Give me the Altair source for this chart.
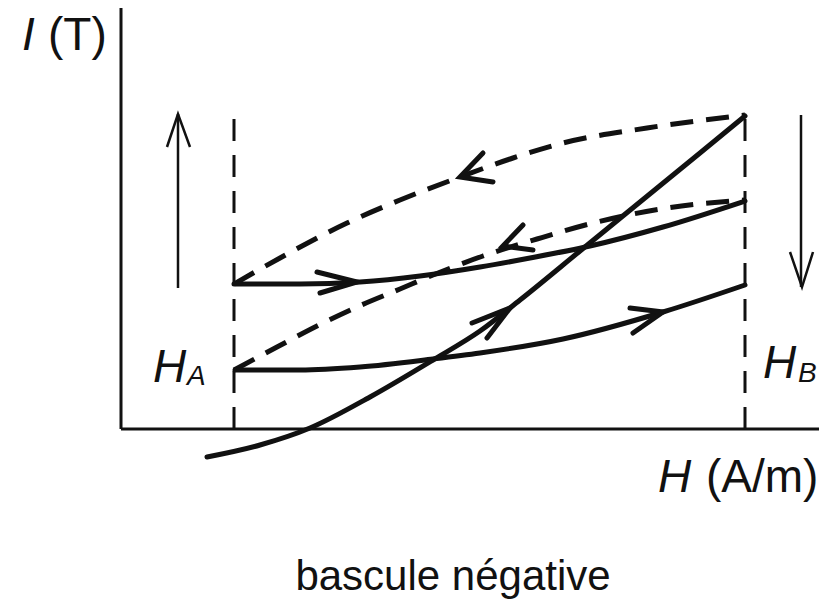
import altair as alt
import pandas as pd

# Chart units: H = horizontal field, I = induction (origin at the axes corner)
H_A = 113
H_B = 624
GUIDE_TOP = 324

# Solid curves
main_h = [86, 139, 189, 249, 312, 359, 399, 459, 519, 579, 624]
main_i = [-28, -16, 1, 32, 69, 98, 129, 178, 227, 276, 313]
low_h = [114, 179, 239, 312, 359, 442, 542, 624]
low_i = [59, 59, 62, 70, 76, 90, 117, 144]
mid_h = [113, 179, 239, 299, 359, 409, 469, 542, 624]
mid_i = [145, 145, 147, 153, 162, 171, 183, 202, 228]

# Dashed curves
dtop_h = [113, 159, 226, 279, 339, 392, 442, 526, 624]
dtop_i = [145, 171, 206, 229, 252, 271, 286, 301, 314]
dmid_h = [113, 156, 196, 236, 279, 312, 362, 416, 476, 546, 624]
dmid_i = [59, 82, 103, 122, 140, 154, 173, 190, 207, 221, 229]

# Arrowheads on curves: (arm, tip, arm)
heads = {
    "main": ([351, 389, 366], [106, 121, 91]),
    "low": ([509, 542, 512], [121, 117, 96]),
    "mid": ([196, 236, 199], [157, 147, 136]),
    "dtop": ([362, 339, 372], [276, 252, 247]),
    "dmid": ([402, 382, 412], [204, 183, 179]),
}

# Side arrows (shaft + head)
up_h = [57, 57]
up_i = [141, 315]
up_head_h = [46, 57, 69]
up_head_i = [282, 315, 282]
down_h = [680, 680]
down_i = [314, 142]
down_head_h = [669, 681, 692]
down_head_i = [177, 142, 177]

XS = alt.Scale(domain=[-113, 698], nice=False, zero=False)
YS = alt.Scale(domain=[-171, 421], nice=False, zero=False)
INK = "#111111"
FONT = "Liberation Sans"


def curve_df(named):
    rows = []
    for name, (hs, is_) in named.items():
        for k, (h, i) in enumerate(zip(hs, is_)):
            rows.append({"id": name, "k": k, "h": h, "i": i})
    return pd.DataFrame(rows)


def enc(ch):
    return ch.encode(
        x=alt.X("h:Q", scale=XS, axis=None),
        y=alt.Y("i:Q", scale=YS, axis=None),
        detail="id:N",
        order="k:Q",
    )


solid = enc(alt.Chart(curve_df({
    "main": (main_h, main_i), "low": (low_h, low_i), "mid": (mid_h, mid_i)
})).mark_line(color=INK, strokeWidth=5, interpolate="monotone", strokeCap="round"))

dashed = enc(alt.Chart(curve_df({
    "dtop": (dtop_h, dtop_i), "dmid": (dmid_h, dmid_i)
})).mark_line(color=INK, strokeWidth=5, interpolate="monotone", strokeDash=[23, 13]))

arrowheads = enc(alt.Chart(curve_df(heads)).mark_line(
    color=INK, strokeWidth=5, strokeCap="round", strokeJoin="miter"))

side = enc(alt.Chart(curve_df({
    "up": (up_h, up_i), "uph": (up_head_h, up_head_i),
    "down": (down_h, down_i), "downh": (down_head_h, down_head_i),
})).mark_line(color=INK, strokeWidth=2.5, strokeJoin="miter"))

axes_v = alt.Chart(pd.DataFrame({"h": [0], "i": [0], "i2": [421]})).mark_rule(
    color=INK, strokeWidth=3).encode(
    x=alt.X("h:Q", scale=XS, axis=None),
    y=alt.Y("i:Q", scale=YS, axis=None), y2="i2:Q")
axes_h = alt.Chart(pd.DataFrame({"h": [0], "h2": [706], "i": [0]})).mark_rule(
    color=INK, strokeWidth=3, clip=True).encode(
    x=alt.X("h:Q", scale=XS, axis=None), x2="h2:Q",
    y=alt.Y("i:Q", scale=YS, axis=None))

guides = alt.Chart(pd.DataFrame({"h": [H_A, H_B], "i": [0, 0], "i2": [GUIDE_TOP, GUIDE_TOP]})).mark_rule(
    color=INK, strokeWidth=3, strokeDash=[22, 14]).encode(
    x=alt.X("h:Q", scale=XS, axis=None),
    y=alt.Y("i:Q", scale=YS, axis=None), y2="i2:Q")


def texts(labels, hs, is_, size, style, align="left"):
    df = pd.DataFrame({"t": labels, "h": hs, "i": is_})
    return alt.Chart(df).mark_text(
        font=FONT, fontSize=size, fontStyle=style, align=align,
        baseline="alphabetic", color=INK).encode(
        x=alt.X("h:Q", scale=XS, axis=None),
        y=alt.Y("i:Q", scale=YS, axis=None), text="t:N")


t_italic = texts(["I", "H", "H", "H"], [-99, 537, 32, 642], [379, -63, 47, 51], 46, "italic")
t_sub = texts(["A", "B"], [66, 677], [44, 47], 28, "italic")
t_norm = texts(["(T)", "(A/m)"], [-73, 585], [379, -63], 46, "normal")
t_caption = texts(["bascule négative"], [332], [-161], 42, "normal", align="center")

chart = alt.layer(
    axes_v, axes_h, guides, side, dashed, solid, arrowheads,
    t_italic, t_sub, t_norm, t_caption,
).properties(
    width=811, height=592, padding=0,
    autosize=alt.AutoSizeParams(type="none"),
    background="white",
).configure_view(stroke=None)

chart.save("out.html", embed_options={"renderer": "svg", "actions": False})
